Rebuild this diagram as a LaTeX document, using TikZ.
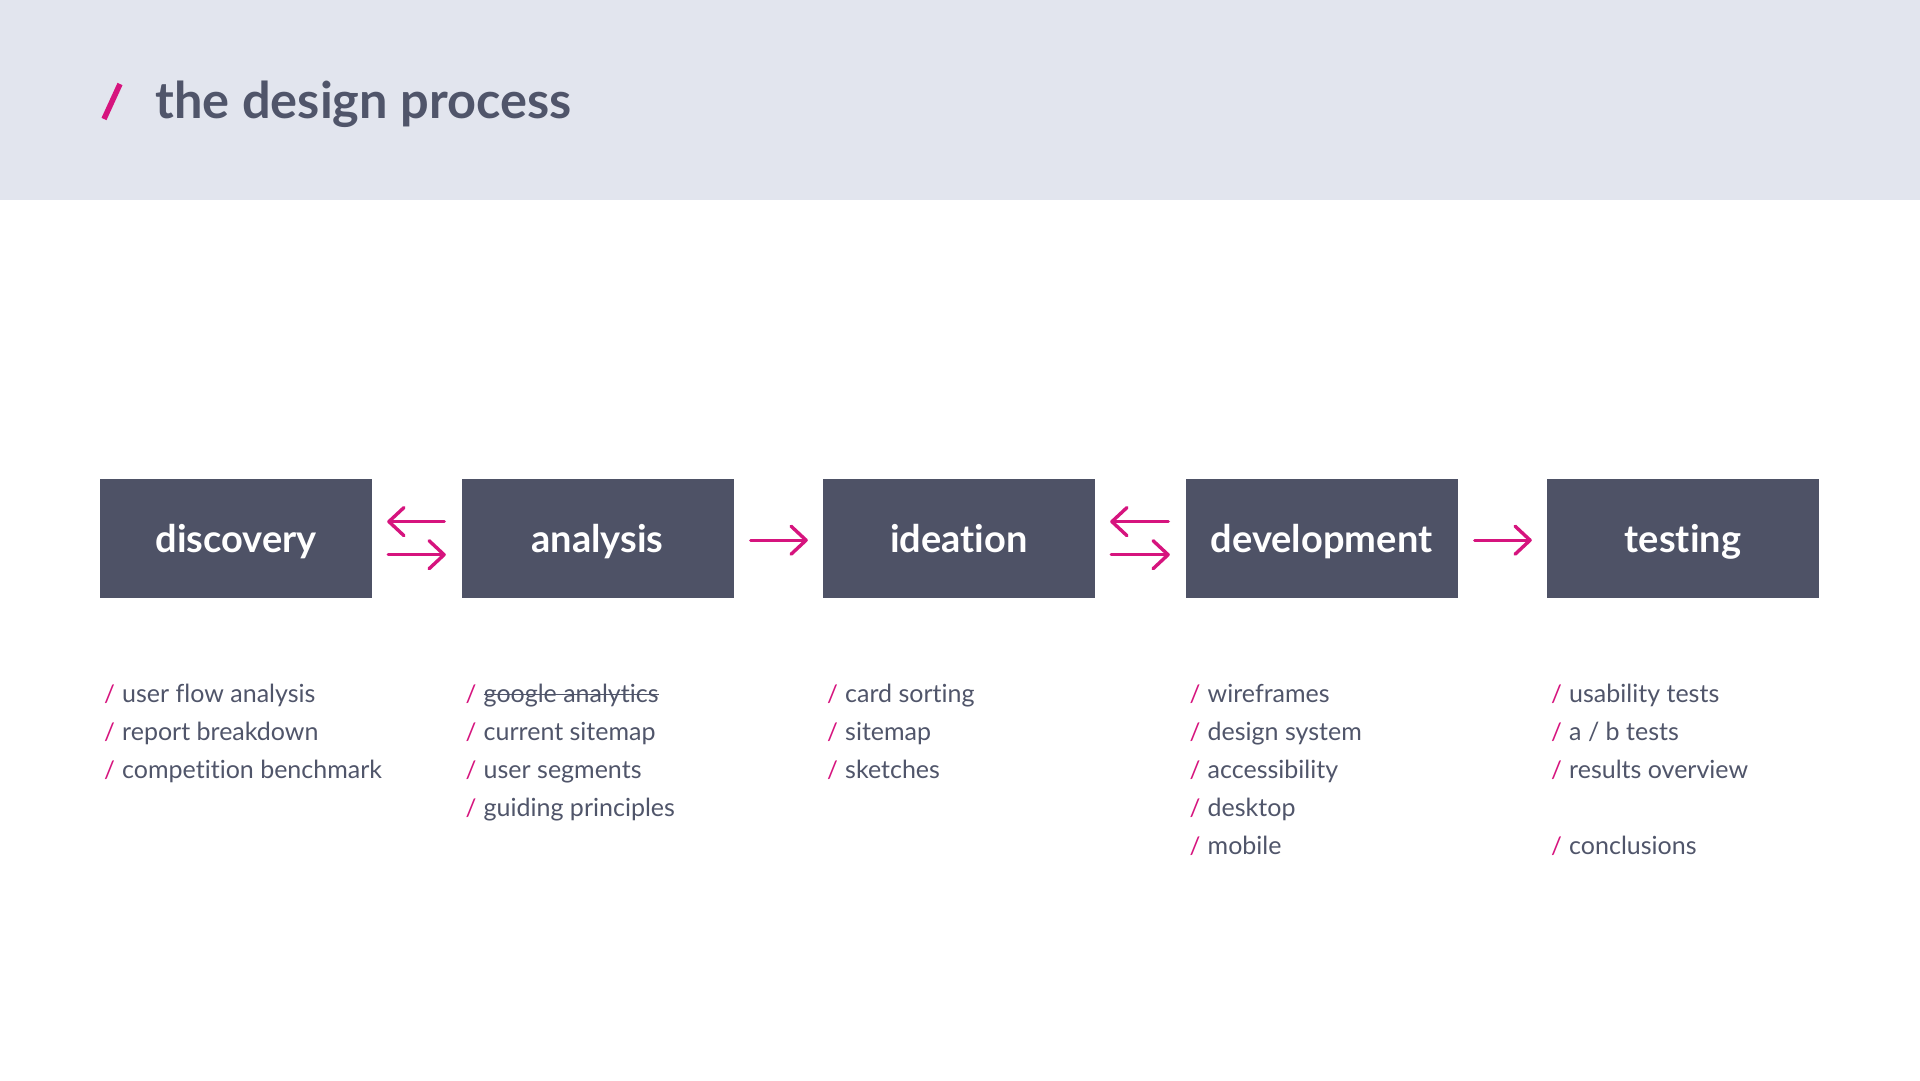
\documentclass[tikz,border=0pt]{standalone}
\usepackage{fontspec}
\setmainfont{Lato}[Ligatures=CommonOff]
\usetikzlibrary{arrows.meta,calc}
\definecolor{hdr}{HTML}{E2E5EE}
\definecolor{boxc}{HTML}{4E5266}
\definecolor{mag}{HTML}{D6147E}
\definecolor{txt}{HTML}{50556A}
\begin{document}
\begin{tikzpicture}[x=1pt,y=-1pt,
  stagebox/.style={fill=boxc, text=white, minimum width=272pt, minimum height=119pt, inner sep=0pt,
    font=\fontsize{38}{42}\selectfont\bfseries, text height=28pt, text depth=0pt},
  itemtxt/.style={anchor=base west, inner sep=0pt, text=txt, font=\fontsize{25}{28}\selectfont},
  slashtxt/.style={anchor=base west, inner sep=0pt, text=mag, font=\fontsize{24}{28}\selectfont},
  flow/.style={draw=mag, line width=3.4pt, line cap=round, -{Straight Barb[length=15pt,width=28pt,line cap=round,line join=round]}}
]
\useasboundingbox (0,0) rectangle (1920,1080);
\fill[white] (0,0) rectangle (1920,1080);
\fill[hdr] (0,0) rectangle (1920,200);
\draw[mag, line width=5.5pt] (104,119) -- (120,84);
\node[anchor=base west, inner sep=0pt, text=txt, font=\fontsize{50.5}{56}\selectfont\bfseries] (title) at (155.5,118.5) {the design process};

\node[stagebox] (disc) at (236,538.2) {discovery};
\node[stagebox] (anal) at (597.5,538.2) {analysis};
\node[stagebox] (idea) at (959,538.2) {ideation};
\node[stagebox] (dev) at (1321.5,538.2) {development};
\node[stagebox] (test) at (1683,538.2) {testing};

% connectors
\draw[flow] ($(anal.west)+(-17,-16.6)$) -- ($(disc.east)+(15,-16.6)$);
\draw[flow] ($(disc.east)+(16,16.5)$) -- ($(anal.west)+(-15.5,16.5)$);
\draw[flow] ($(anal.east)+(17,2)$) -- ($(idea.west)+(-15,2)$);
\draw[flow] ($(dev.west)+(-17,-16.6)$) -- ($(idea.east)+(15,-16.6)$);
\draw[flow] ($(idea.east)+(16,16.5)$) -- ($(dev.west)+(-15.5,16.5)$);
\draw[flow] ($(dev.east)+(17,2)$) -- ($(test.west)+(-15,2)$);

% item lists
\foreach \nm/\lx/\row/\t in {
  d1/100/1/{user flow analysis}, d2/100/2/{report breakdown}, d3/100/3/{competition benchmark},
  a1/461.5/1/{google analytics}, a2/461.5/2/{current sitemap}, a3/461.5/3/{user segments}, a4/461.5/4/{guiding principles},
  i1/823/1/{card sorting}, i2/823/2/{sitemap}, i3/823/3/{sketches},
  v1/1185.5/1/{wireframes}, v2/1185.5/2/{design system}, v3/1185.5/3/{accessibility}, v4/1185.5/4/{desktop}, v5/1185.5/5/{mobile},
  t1/1547/1/{usability tests}, t2/1547/2/{a / b tests}, t3/1547/3/{results overview}, t5/1547/5/{conclusions}}{
  \node[slashtxt] (s\nm) at ({\lx+4},{702+38*(\row-1)}) {/};
  \node[itemtxt] (\nm) at ({\lx+22},{702+38*(\row-1)}) {\t};
}
\draw[txt, line width=1.6pt] ($(a1.base west)+(0,-7.5)$) -- ($(a1.base east)+(0,-7.5)$);
\end{tikzpicture}
\end{document}
